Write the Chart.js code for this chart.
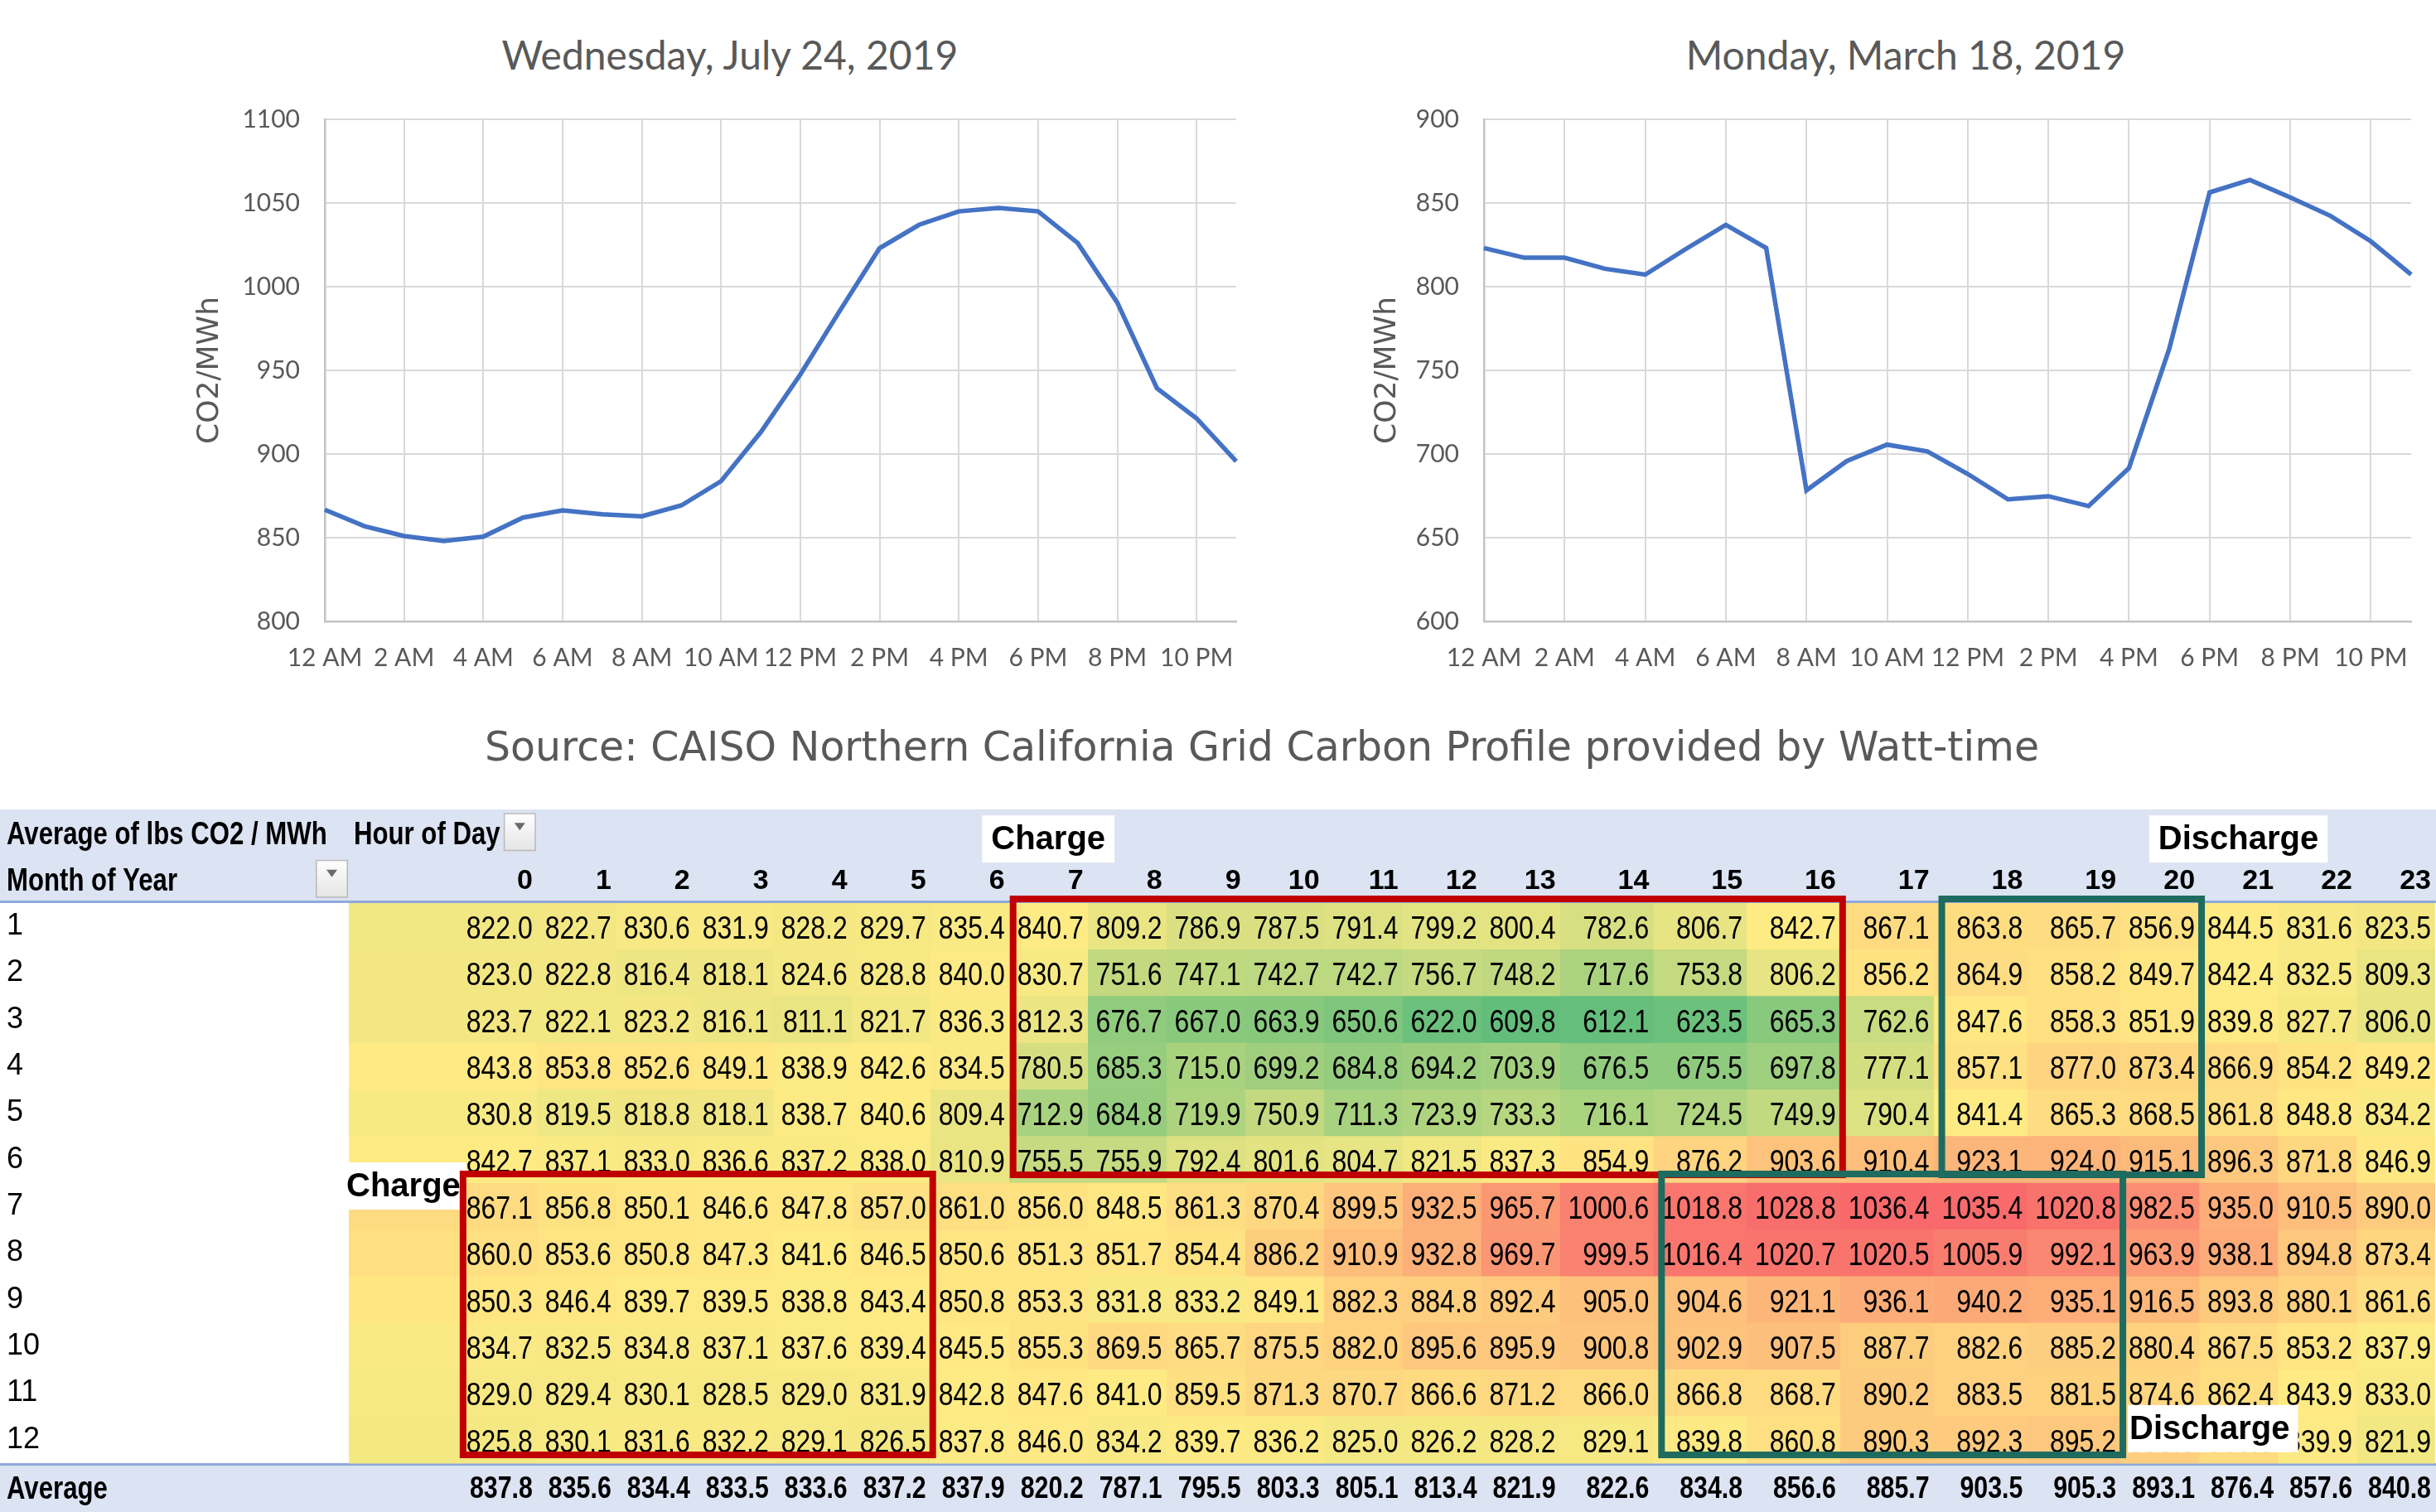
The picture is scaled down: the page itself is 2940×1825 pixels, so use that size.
<!DOCTYPE html>
<html>
<head>
<meta charset="utf-8">
<script src="https://cdn.jsdelivr.net/npm/chart.js@4.4.1/dist/chart.umd.min.js"></script>
<style>
  html, body { margin: 0; padding: 0; background: #fff; }
  body { width: 2940px; height: 1825px; position: relative; overflow: hidden; }
  canvas { position: absolute; }
  .title { position: absolute; width: 1000px; text-align: center; font-family: Lato, sans-serif;
           font-size: 48px; line-height: 56px; color: #595959; }
  #source { position: absolute; left: 523px; top: 873px; width: 2000px; text-align: center;
            font-family: "DejaVu Sans", sans-serif; font-size: 49px; line-height: 58px; color: #595959; }
</style>
</head>
<body>
<div class="title" style="left:381px; top:38px">Wednesday, July 24, 2019</div>
<div class="title" style="left:1800px; top:38px">Monday, March 18, 2019</div>
<div id="source">Source: CAISO Northern California Grid Carbon Profile provided by Watt-time</div>
<canvas id="july" width="1330" height="840" style="left:200px; top:0"></canvas>
<canvas id="march" width="1350" height="840" style="left:1590px; top:0"></canvas>
<canvas id="pivot" width="2940" height="872" style="left:0; top:975px"></canvas>
<script>
// ---- line charts: hourly grid carbon intensity on two days ----
const hourLabels = ['12 AM', '1 AM', '2 AM', '3 AM', '4 AM', '5 AM', '6 AM', '7 AM', '8 AM', '9 AM', '10 AM', '11 AM',
                    '12 PM', '1 PM', '2 PM', '3 PM', '4 PM', '5 PM', '6 PM', '7 PM', '8 PM', '9 PM', '10 PM', '11 PM'];
const july24 = [866.7, 856.9, 851.0, 848.0, 850.6, 862.0, 866.3, 864.0, 862.8, 869.3, 883.8, 913.0,
                947.5, 985.7, 1023.0, 1037.0, 1045.0, 1047.0, 1045.0, 1026.0, 990.4, 939.3, 921.3, 895.6];
const march18 = [823.1, 817.3, 817.3, 810.7, 807.2, 822.4, 836.9, 823.1, 678.3, 695.8, 705.6, 701.6,
                 688.1, 672.9, 674.8, 668.9, 691.6, 762.9, 856.3, 863.8, 853.3, 842.3, 827.1, 807.2];

// ---- pivot table: average lbs CO2 / MWh by month (rows) and hour of day (columns) ----
const hours = [0, 1, 2, 3, 4, 5, 6, 7, 8, 9, 10, 11, 12, 13, 14, 15, 16, 17, 18, 19, 20, 21, 22, 23];
const months = ['1', '2', '3', '4', '5', '6', '7', '8', '9', '10', '11', '12'];
const m1  = [822.0, 822.7, 830.6, 831.9, 828.2, 829.7, 835.4, 840.7, 809.2, 786.9, 787.5, 791.4, 799.2, 800.4, 782.6, 806.7, 842.7, 867.1, 863.8, 865.7, 856.9, 844.5, 831.6, 823.5];
const m2  = [823.0, 822.8, 816.4, 818.1, 824.6, 828.8, 840.0, 830.7, 751.6, 747.1, 742.7, 742.7, 756.7, 748.2, 717.6, 753.8, 806.2, 856.2, 864.9, 858.2, 849.7, 842.4, 832.5, 809.3];
const m3  = [823.7, 822.1, 823.2, 816.1, 811.1, 821.7, 836.3, 812.3, 676.7, 667.0, 663.9, 650.6, 622.0, 609.8, 612.1, 623.5, 665.3, 762.6, 847.6, 858.3, 851.9, 839.8, 827.7, 806.0];
const m4  = [843.8, 853.8, 852.6, 849.1, 838.9, 842.6, 834.5, 780.5, 685.3, 715.0, 699.2, 684.8, 694.2, 703.9, 676.5, 675.5, 697.8, 777.1, 857.1, 877.0, 873.4, 866.9, 854.2, 849.2];
const m5  = [830.8, 819.5, 818.8, 818.1, 838.7, 840.6, 809.4, 712.9, 684.8, 719.9, 750.9, 711.3, 723.9, 733.3, 716.1, 724.5, 749.9, 790.4, 841.4, 865.3, 868.5, 861.8, 848.8, 834.2];
const m6  = [842.7, 837.1, 833.0, 836.6, 837.2, 838.0, 810.9, 755.5, 755.9, 792.4, 801.6, 804.7, 821.5, 837.3, 854.9, 876.2, 903.6, 910.4, 923.1, 924.0, 915.1, 896.3, 871.8, 846.9];
const m7  = [867.1, 856.8, 850.1, 846.6, 847.8, 857.0, 861.0, 856.0, 848.5, 861.3, 870.4, 899.5, 932.5, 965.7, 1000.6, 1018.8, 1028.8, 1036.4, 1035.4, 1020.8, 982.5, 935.0, 910.5, 890.0];
const m8  = [860.0, 853.6, 850.8, 847.3, 841.6, 846.5, 850.6, 851.3, 851.7, 854.4, 886.2, 910.9, 932.8, 969.7, 999.5, 1016.4, 1020.7, 1020.5, 1005.9, 992.1, 963.9, 938.1, 894.8, 873.4];
const m9  = [850.3, 846.4, 839.7, 839.5, 838.8, 843.4, 850.8, 853.3, 831.8, 833.2, 849.1, 882.3, 884.8, 892.4, 905.0, 904.6, 921.1, 936.1, 940.2, 935.1, 916.5, 893.8, 880.1, 861.6];
const m10 = [834.7, 832.5, 834.8, 837.1, 837.6, 839.4, 845.5, 855.3, 869.5, 865.7, 875.5, 882.0, 895.6, 895.9, 900.8, 902.9, 907.5, 887.7, 882.6, 885.2, 880.4, 867.5, 853.2, 837.9];
const m11 = [829.0, 829.4, 830.1, 828.5, 829.0, 831.9, 842.8, 847.6, 841.0, 859.5, 871.3, 870.7, 866.6, 871.2, 866.0, 866.8, 868.7, 890.2, 883.5, 881.5, 874.6, 862.4, 843.9, 833.0];
// hours 20 and 21 of month 12 sit under the "Discharge" note; estimated from the column averages
const m12 = [825.8, 830.1, 831.6, 832.2, 829.1, 826.5, 837.8, 846.0, 834.2, 839.7, 836.2, 825.0, 826.2, 828.2, 829.1, 839.8, 860.8, 890.3, 892.3, 895.2, 883.8, 868.3, 839.9, 821.9];
const averages = [837.8, 835.6, 834.4, 833.5, 833.6, 837.2, 837.9, 820.2, 787.1, 795.5, 803.3, 805.1, 813.4, 821.9, 822.6, 834.8, 856.6, 885.7, 903.5, 905.3, 893.1, 876.4, 857.6, 840.8];
const monthRows = [m1, m2, m3, m4, m5, m6, m7, m8, m9, m10, m11, m12];

const GRAY = '#595959';
const GRID = '#D9D9D9';

function lineChart(id, values, yMin, yMax, axisWidth, titlePad, padRight) {
  return new Chart(id, {
    type: 'line',
    data: {
      labels: hourLabels,
      datasets: [{ data: values, borderColor: '#4472C4', borderWidth: 5.5, pointRadius: 0, tension: 0, fill: false }]
    },
    options: {
      responsive: false,
      animation: false,
      layout: { padding: { left: 0, right: padRight, top: 144, bottom: 24 } },
      plugins: { legend: { display: false }, tooltip: { enabled: false } },
      scales: {
        x: {
          afterFit: (s) => { s.height = 66; },
          grid: { color: GRID, lineWidth: 2, drawTicks: false },
          border: { color: '#C4C4C4', width: 2.5 },
          ticks: {
            autoSkip: false, maxRotation: 0, padding: 26, color: GRAY,
            font: { family: 'Lato', size: 30 },
            // only every second hour is labelled; returning null also hides that grid line
            callback: (v, i) => (i % 2 === 0 ? hourLabels[i] : null)
          }
        },
        y: {
          min: yMin, max: yMax,
          afterFit: (s) => { s.width = axisWidth; },
          grid: { color: GRID, lineWidth: 2, drawTicks: false },
          border: { color: '#C4C4C4', width: 2.5 },
          ticks: { stepSize: 50, padding: 30, color: GRAY, font: { family: 'Lato', size: 30 }, callback: (v) => String(v) },
          title: {
            display: true, text: 'CO2/MWh', color: GRAY,
            font: { family: 'DejaVu Sans', size: 36 },
            padding: { top: titlePad, bottom: 0 }
          }
        }
      }
    }
  });
}

lineChart('july', july24, 800, 1100, 192, 32, 38);
lineChart('march', march18, 600, 900, 201, 63, 30);

// ---- heat map table ----
// Calibri-like narrow lettering: Liberation Sans squeezed horizontally
const SANS = '"Liberation Sans", Arial, sans-serif';
const SQUEEZE = 0.82;
const NOTE_FONT = 'bold 40px ' + SANS;
const fmt = (v) => v.toFixed(1);

// Excel style 3-colour scale: lowest green, 50th percentile yellow, highest red
const sorted = monthRows.flat().sort((a, b) => a - b);
const vMin = sorted[0];
const vMax = sorted[sorted.length - 1];
const vMed = (sorted[sorted.length / 2 - 1] + sorted[sorted.length / 2]) / 2;

function heatColor(v) {
  const lo = [99, 190, 123], mid = [255, 235, 132], hi = [248, 105, 107];
  let a, b, t;
  if (v <= vMed) { a = lo; b = mid; t = (v - vMin) / (vMed - vMin); }
  else { a = mid; b = hi; t = (v - vMed) / (vMax - vMed); }
  const c = a.map((ch, k) => Math.round(ch + (b[k] - ch) * t));
  return 'rgb(' + c.join(',') + ')';
}

// column widths fitted to their widest text, like an auto-fit spreadsheet column
const mctx = document.createElement('canvas').getContext('2d');
function textW(txt, font) {
  mctx.font = font;
  return mctx.measureText(txt).width * SQUEEZE;
}
const VAL_FONT = '39px ' + SANS;
const BOLD_FONT = 'bold 37px ' + SANS;
const colW = hours.map((h, i) => {
  let w = 0;
  monthRows.forEach((row) => { w = Math.max(w, textW(fmt(row[i]), VAL_FONT)); });
  w = Math.max(w, textW(fmt(averages[i]), BOLD_FONT));
  if (i === 0) w = Math.max(w, textW('Hour of Day', BOLD_FONT) + 40);
  return w + 15;
});
const edges = [0];
colW.forEach((w) => edges.push(edges[edges.length - 1] + w));

function narrowText(ctx, text, x, y, align) {
  ctx.save();
  ctx.translate(x, y);
  ctx.scale(SQUEEZE, 1);
  ctx.textAlign = align;
  ctx.fillText(text, 0, 0);
  ctx.restore();
}

function drawFilterButton(ctx, left, top) {
  const g = ctx.createLinearGradient(0, top, 0, top + 46);
  g.addColorStop(0, '#FFFFFF');
  g.addColorStop(1, '#E4E4E4');
  ctx.fillStyle = g;
  ctx.fillRect(left, top, 39, 46);
  ctx.strokeStyle = '#B8B8B8';
  ctx.lineWidth = 1.5;
  ctx.strokeRect(left + 0.75, top + 0.75, 37.5, 44.5);
  ctx.fillStyle = '#6A6A6A';
  ctx.beginPath();
  ctx.moveTo(left + 13, top + 12);
  ctx.lineTo(left + 26, top + 12);
  ctx.lineTo(left + 19.5, top + 21);
  ctx.closePath();
  ctx.fill();
}

function note(ctx, text, left, cy, padL, padR) {
  ctx.font = NOTE_FONT;
  const w = ctx.measureText(text).width;
  ctx.fillStyle = '#FFFFFF';
  ctx.fillRect(left - padL, cy - 28, w + padL + padR, 57);
  ctx.fillStyle = '#000000';
  ctx.textAlign = 'left';
  ctx.textBaseline = 'middle';
  ctx.fillText(text, left, cy + 2);
}

const pivotPlugin = {
  id: 'pivot',
  beforeDraw(chart) {
    const { ctx, width, height } = chart;
    const x = chart.scales.x, y = chart.scales.y;
    const half = (y.getPixelForValue(1) - y.getPixelForValue(0)) / 2;
    const avgTop = y.getPixelForValue(12) - half;
    ctx.save();
    ctx.fillStyle = '#DCE3F3';
    ctx.fillRect(0, x.top, width, x.bottom - x.top);
    ctx.fillRect(0, avgTop, width, height - avgTop);
    ctx.fillStyle = '#8EA9DB';
    ctx.fillRect(0, x.bottom - 3, width, 3);
    ctx.fillRect(0, avgTop, width, 3);
    ctx.restore();
  },
  afterDatasetsDraw(chart) {
    const { ctx } = chart;
    const x = chart.scales.x, y = chart.scales.y;
    const px = (v) => x.getPixelForValue(v);
    const rowH = y.getPixelForValue(1) - y.getPixelForValue(0);
    const rowTop = (r) => y.getPixelForValue(r) - rowH / 2;
    ctx.save();

    // cell values
    ctx.fillStyle = '#000';
    ctx.textBaseline = 'middle';
    ctx.font = VAL_FONT;
    monthRows.forEach((row, r) => row.forEach((v, i) => {
      narrowText(ctx, fmt(v), px(edges[i + 1]) - 5, y.getPixelForValue(r) + 4, 'right');
    }));
    ctx.font = BOLD_FONT;
    averages.forEach((v, i) => narrowText(ctx, fmt(v), px(edges[i + 1]) - 5, y.getPixelForValue(12) + 4, 'right'));

    // pivot headers
    const h1 = x.top + (x.bottom - x.top) * 0.25;
    const h2 = x.top + (x.bottom - x.top) * 0.75;
    ctx.font = 'bold 38px ' + SANS;
    narrowText(ctx, 'Average of lbs CO2 / MWh', 8, h1 + 3, 'left');
    narrowText(ctx, 'Hour of Day', px(edges[0]) + 6, h1 + 3, 'left');
    narrowText(ctx, 'Month of Year', 8, h2 + 3, 'left');
    narrowText(ctx, 'Average', 8, y.getPixelForValue(12) + 4, 'left');
    drawFilterButton(ctx, px(edges[1]) - 40, h1 - 24);
    drawFilterButton(ctx, px(edges[0]) - 40, h2 - 24);

    // notes
    ctx.font = NOTE_FONT;
    const cw = ctx.measureText('Charge').width;
    const dw = ctx.measureText('Discharge').width;
    note(ctx, 'Charge', (px(edges[7]) + px(edges[8]) - cw) / 2, h1 + 7, 11, 11);
    note(ctx, 'Discharge', (px(edges[21]) + px(edges[22]) - dw) / 2, h1 + 7, 11, 11);
    note(ctx, 'Charge', px(edges[0]) - 3, rowTop(6) + 3, 2, 7);
    note(ctx, 'Discharge', px(edges[20]) + 11, y.getPixelForValue(11) - 14, 2, 10);

    // charge / discharge windows
    const boxes = [
      { c0: 7, c1: 16, r0: 0, r1: 5, color: '#C00000' },
      { c0: 18, c1: 20, r0: 0, r1: 5, color: '#1E6B5F' },
      { c0: 0, c1: 5, r0: 6, r1: 11, color: '#C00000' },
      { c0: 15, c1: 19, r0: 6, r1: 11, color: '#1E6B5F' }
    ];
    ctx.lineWidth = 8;
    ctx.lineJoin = 'miter';
    boxes.forEach((b) => {
      const inset = b.color === '#C00000' ? 5 : 10;
      const left = b.c0 === 0
        ? px(edges[1]) - (px(edges[2]) - px(edges[1])) + 6
        : px(edges[b.c0]) + inset;
      const right = px(edges[b.c1 + 1]) + 3;
      const top = b.r0 === 0 ? rowTop(0) - 5 : rowTop(b.r0) - 11;
      const bottom = rowTop(b.r1) + rowH - 10;
      ctx.strokeStyle = b.color;
      ctx.strokeRect(left, top, right - left, bottom - top);
    });
    ctx.restore();
  }
};

new Chart('pivot', {
  type: 'bar',
  data: {
    labels: months.concat(['Average']),
    datasets: hours.map((h, i) => ({
      label: String(h),
      data: months.map(() => [edges[i], edges[i + 1]]),
      backgroundColor: monthRows.map((row) => heatColor(row[i])),
      borderWidth: 0,
      borderSkipped: false,
      barPercentage: 1,
      categoryPercentage: 1,
      grouped: false
    }))
  },
  options: {
    indexAxis: 'y',
    responsive: false,
    animation: false,
    layout: { padding: { left: 8, right: 0, top: 2, bottom: 0 } },
    plugins: { legend: { display: false }, tooltip: { enabled: false } },
    scales: {
      x: {
        type: 'linear', position: 'top', min: 0, max: edges[edges.length - 1],
        grid: { display: false, drawTicks: false }, border: { display: false },
        afterBuildTicks: (s) => { s.ticks = hours.map((h, i) => ({ value: edges[i + 1] - 5 })); },
        afterFit: (s) => { s.height = 113; },
        ticks: {
          autoSkip: false, maxRotation: 0, minRotation: 0, align: 'end', padding: 6, color: '#000',
          font: { family: SANS, size: 34, weight: 'bold' },
          callback: (v, i) => String(hours[i])
        }
      },
      y: {
        type: 'category',
        grid: { display: false, drawTicks: false }, border: { display: false },
        afterFit: (s) => { s.width = 413; },
        ticks: {
          crossAlign: 'far', color: '#000',
          // the "Average" row caption is drawn by the plugin in the squeezed face
          callback: (v, i) => (i < months.length ? months[i] : ''),
          font: { family: SANS, size: 36 }
        }
      }
    }
  },
  plugins: [pivotPlugin]
});
</script>
</body>
</html>
